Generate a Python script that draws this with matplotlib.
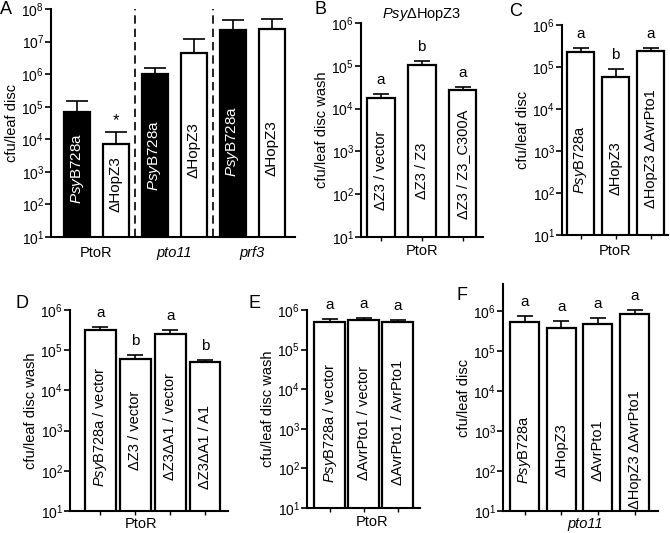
import matplotlib
matplotlib.use('Agg')
from matplotlib import pyplot as plt
import numpy as np

plt.rcParams['font.family'] = ['Liberation Sans', 'DejaVu Sans']
plt.rcParams['mathtext.fontset'] = 'custom'
plt.rcParams['mathtext.rm'] = 'Liberation Sans'
plt.rcParams['mathtext.it'] = 'Liberation Sans:italic'
plt.rcParams['axes.linewidth'] = 1.5

PSY = r'$\mathit{Psy}$'

# panel A
a_labels = [PSY + 'B728a', 'ΔHopZ3', PSY + 'B728a', 'ΔHopZ3', PSY + 'B728a', 'ΔHopZ3']
a_means = [7e4, 7e3, 1.0e6, 4.5e6, 2.2e7, 2.5e7]
a_err = [8e4, 9.5e3, 5.5e5, 7.5e6, 2.5e7, 2.5e7]
a_fill = ['black', 'white', 'black', 'white', 'black', 'white']
a_groups = ['PtoR', 'pto11', 'prf3']
a_group_style = ['normal', 'italic', 'italic']

# panel B
b_labels = ['ΔZ3 / vector', 'ΔZ3 / Z3', 'ΔZ3 / Z3_C300A']
b_means = [1.8e4, 1.05e5, 2.7e4]
b_err = [3.5e3, 2.5e4, 5e3]
b_letters = ['a', 'b', 'a']

# panel C
c_labels = [PSY + 'B728a', 'ΔHopZ3', 'ΔHopZ3 ΔAvrPto1']
c_means = [2.3e5, 5.8e4, 2.35e5]
c_err = [5e4, 3.2e4, 5e4]
c_letters = ['a', 'b', 'a']

# panel D
d_labels = [PSY + 'B728a / vector', 'ΔZ3 / vector', 'ΔZ3ΔA1 / vector', 'ΔZ3ΔA1 / A1']
d_means = [3.2e5, 5.9e4, 2.6e5, 5.2e4]
d_err = [5e4, 1.8e4, 6e4, 4e3]
d_letters = ['a', 'b', 'a', 'b']

# panel E
e_labels = [PSY + 'B728a / vector', 'ΔAvrPto1 / vector', 'ΔAvrPto1 / AvrPto1']
e_means = [4.9e5, 5.6e5, 4.9e5]
e_err = [1e5, 7e4, 6e4]
e_letters = ['a', 'a', 'a']

# panel F
f_labels = [PSY + 'B728a', 'ΔHopZ3', 'ΔAvrPto1', 'ΔHopZ3 ΔAvrPto1']
f_means = [5.3e5, 3.9e5, 4.9e5, 8.4e5]
f_err = [2.3e5, 1.8e5, 1.7e5, 2.2e5]
f_letters = ['a', 'a', 'a', 'a']

W, H = 670, 533
fig = plt.figure(figsize=(W / 100, H / 100), dpi=100)


def add_ax(left, right, top, bottom):
    return fig.add_axes([left / W, 1 - bottom / H, (right - left) / W, (bottom - top) / H])


def panel(ax, labels, means, err, fills, width, xlim, ylim, text_y, fs=10.5,
          capsize=6, letters=None, ylabel='cfu/leaf disc', xticks=True):
    x = np.arange(len(means))
    ax.bar(x, means, width, color=fills, edgecolor='black', linewidth=1.6, zorder=2)
    ax.errorbar(x, means, yerr=[np.zeros(len(err)), err], fmt='none', ecolor='black',
                elinewidth=1.2, capsize=capsize, capthick=1.2, zorder=1)
    ax.set_yscale('log')
    ax.set_ylim(*ylim)
    ax.set_xlim(*xlim)
    ax.set_yticks([10 ** k for k in range(1, 9) if 10 ** k <= ylim[1]])
    ax.yaxis.set_minor_locator(matplotlib.ticker.NullLocator())
    ax.spines['top'].set_visible(False)
    ax.spines['right'].set_visible(False)
    ax.tick_params(axis='y', length=4, width=1.2, labelsize=10, pad=1)
    if xticks:
        ax.set_xticks(x)
        ax.set_xticklabels([])
        ax.tick_params(axis='x', length=3, width=1.0)
    else:
        ax.set_xticks([])
    ax.set_ylabel(ylabel, fontsize=10.5, labelpad=2)
    for i, lab in enumerate(labels):
        col = 'white' if fills[i] == 'black' else 'black'
        ax.text(x[i], text_y[i], lab, rotation=90, ha='center', va='center', color=col,
                fontsize=fs, transform=ax.get_xaxis_transform())
    if letters:
        for i, l in enumerate(letters):
            ax.annotate(l, (x[i], means[i] + err[i]), xytext=(0, 5), textcoords='offset points',
                        ha='center', va='bottom', fontsize=11, annotation_clip=False)


def under(px, py, s, style='normal'):
    fig.text(px / W, 1 - py / H, s, ha='center', va='center', fontsize=10.5, fontstyle=style)


# A
axA = add_ax(51, 295, 9, 237)
panel(axA, a_labels, a_means, a_err, a_fill, 0.67, (-0.67, 5.6), (10, 1e8),
      [0.30, 0.23, 0.36, 0.38, 0.42, 0.39], fs=11, capsize=8, xticks=False)
for xd in [1.5, 3.5]:
    axA.axvline(xd, color='black', lw=1.2, ls=(0, (5, 3)), clip_on=False)
axA.annotate('*', (1, a_means[1] + a_err[1]), xytext=(0, 3), textcoords='offset points',
             ha='center', va='bottom', fontsize=12)
for i, g in enumerate(a_groups):
    axA.text(2 * i + 0.5, -0.07, g, ha='center', va='center', fontsize=10.5,
             fontstyle=a_group_style[i], transform=axA.get_xaxis_transform())

# B
axB = add_ax(361, 483, 23, 237)
panel(axB, b_labels, b_means, b_err, ['white'] * 3, 0.68, (-0.48, 2.5), (10, 1e6),
      [0.31, 0.31, 0.34], letters=b_letters, ylabel='cfu/leaf disc wash')
axB.set_title(PSY + 'ΔHopZ3', fontsize=10.5, pad=2)
under(422, 251, 'PtoR')

# C
axC = add_ax(562, 668, 25, 235)
panel(axC, c_labels, c_means, c_err, ['white'] * 3, 0.77, (-0.53, 2.5), (10, 1e6),
      [0.36, 0.32, 0.41], letters=c_letters)
under(615, 251, 'PtoR')

# D
axD = add_ax(70, 228, 310, 511)
panel(axD, d_labels, d_means, d_err, ['white'] * 4, 0.87, (-0.87, 3.65), (10, 1e6),
      [0.42, 0.40, 0.42, 0.32], letters=d_letters, ylabel='cfu/leaf disc wash')
under(141, 524, 'PtoR')

# E
axE = add_ax(307, 420, 310, 508)
panel(axE, e_labels, e_means, e_err, ['white'] * 3, 0.9, (-0.66, 2.65), (10, 1e6),
      [0.43, 0.43, 0.43], letters=e_letters, ylabel='cfu/leaf disc wash')
under(372, 522, 'PtoR')

# F
axF = add_ax(503, 658, 284, 511)
panel(axF, f_labels, f_means, f_err, ['white'] * 4, 0.79, (-0.59, 3.64), (10, 4.8e6),
      [0.27, 0.27, 0.27, 0.27], letters=f_letters)
under(585, 524, 'pto11', 'italic')

for lab, (px, py) in zip('ABCDEF', [(6, 9), (320, 9), (516, 11), (22, 303), (255, 303), (462, 295)]):
    fig.text(px / W, 1 - py / H, lab, ha='center', va='center', fontsize=13)

fig.savefig('out.png', dpi=100)
